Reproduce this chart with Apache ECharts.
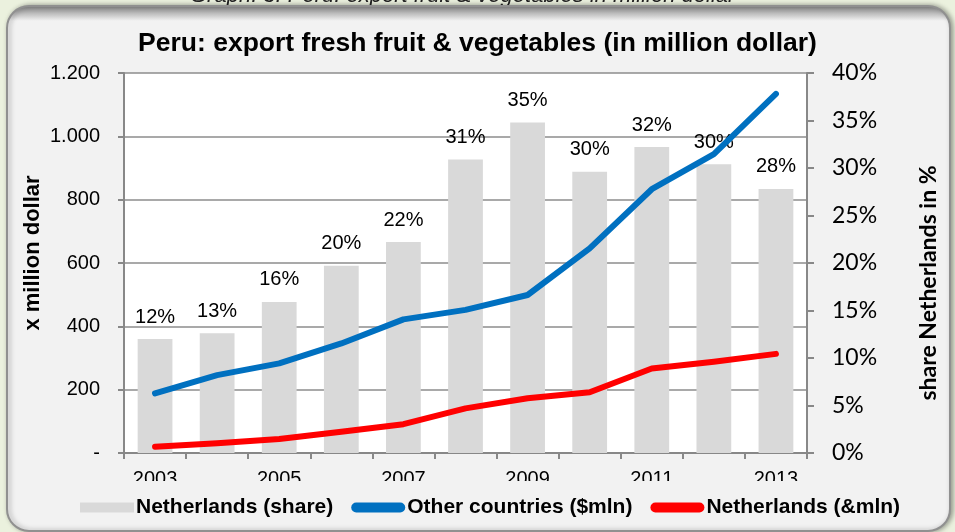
<!DOCTYPE html>
<html>
<head>
<meta charset="utf-8">
</head>
<body style="margin: 0; background: #ebf1de">
<div id="container" style="width: 955px; height: 532px"></div>
<script type="text/javascript" src="https://cdn.jsdelivr.net/npm/echarts@6/dist/echarts.min.js"></script>
<script type="text/javascript">
var years = ['2003', '2004', '2005', '2006', '2007', '2008', '2009', '2010', '2011', '2012', '2013'];
// share of the Netherlands, % (right axis)
var nlShare = [12.0, 12.6, 15.9, 19.7, 22.2, 30.9, 34.8, 29.6, 32.2, 30.4, 27.8];
// million dollar (left axis)
var otherCountries = [188, 246, 283, 346, 422, 452, 499, 646, 833, 944, 1134];
var nlMln = [20, 31, 44, 67, 91, 141, 173, 192, 267, 288, 313];

var arial = '"Liberation Sans", Arial, sans-serif';
var calibri = 'Lato, "Open Sans", sans-serif';
var capsule = 'path://M5,0 L49,0 A5,5 0 0 1 49,10 L5,10 A5,5 0 0 1 5,0 Z';

var dom = document.getElementById('container');
var myChart = echarts.init(dom);

var option = {
    backgroundColor: '#ebf1de',
    animation: false,
    graphic: [
        {
            type: 'text', left: 190, top: -15, z: -20,
            style: {
                text: 'Graph. 3: Peru: export fruit & vegetables in million dollar',
                font: 'italic 22px ' + arial, fill: '#222'
            }
        },
        {
            type: 'rect', z: -10,
            shape: { x: 7, y: 6, width: 943, height: 525, r: 22 },
            style: {
                fill: {
                    type: 'linear', x: 0, y: 0, x2: 0, y2: 1,
                    colorStops: [
                        { offset: 0, color: '#7f7f7f' },
                        { offset: 0.03, color: '#f2f2f2' },
                        { offset: 1, color: '#f2f2f2' }
                    ]
                },
                stroke: '#909090', lineWidth: 2,
                shadowColor: 'rgba(0,0,0,0.35)', shadowBlur: 5, shadowOffsetX: 2
            }
        },
        {
            type: 'text', left: 'center', top: 30, z: 10,
            style: {
                text: 'Peru: export fresh fruit & vegetables (in million dollar)',
                font: 'bold 26.5px ' + arial, fill: '#000'
            }
        },
        {
            // the year labels are cut off at the bottom in the original
            type: 'rect', z: 100,
            shape: { x: 110, y: 481, width: 720, height: 10 },
            style: { fill: '#f2f2f2' }
        }
    ],
    grid: {
        left: 124, right: 148, top: 73, bottom: 79,
        show: true, backgroundColor: '#fff', borderWidth: 0
    },
    legend: {
        left: 75, top: 492, z: 101,
        itemWidth: 54, itemHeight: 10, itemGap: 18,
        textStyle: { fontFamily: arial, fontWeight: 'bold', fontSize: 21, color: '#000', padding: [0, 0, 0, -3] },
        data: [
            { name: 'Netherlands (share)', icon: 'rect' },
            { name: 'Other countries ($mln)', icon: capsule, itemStyle: { color: '#0070c0' } },
            { name: 'Netherlands (&mln)', icon: capsule, itemStyle: { color: '#ff0000' } }
        ]
    },
    xAxis: {
        type: 'category',
        data: years,
        boundaryGap: true,
        axisLine: { lineStyle: { color: '#888', width: 2 } },
        axisTick: { show: true, interval: 0, length: 6, lineStyle: { color: '#888', width: 2 } },
        axisLabel: { interval: 1, margin: 16, fontFamily: arial, fontSize: 20, color: '#000' }
    },
    yAxis: [
        {
            type: 'value', min: 0, max: 1200, interval: 200,
            name: 'x million dollar', nameLocation: 'middle', nameGap: 80, nameMoveOverlap: false,
            nameTextStyle: { fontFamily: arial, fontWeight: 'bold', fontSize: 22, color: '#000', padding: [0, 0, 0, 20] },
            axisLine: { show: true, lineStyle: { color: '#888', width: 2 } },
            axisTick: { show: true, length: 6, lineStyle: { color: '#888', width: 2 } },
            splitLine: { lineStyle: { color: '#8c8c8c', width: 1.5 } },
            axisLabel: {
                margin: 24, fontFamily: arial, fontSize: 20, color: '#000',
                formatter: function (v) {
                    if (v === 0) return '-';
                    return String(v).replace(/\B(?=(\d{3})+(?!\d))/g, '.');
                }
            }
        },
        {
            type: 'value', min: 0, max: 40, interval: 5,
            name: 'share Netherlands in %', nameLocation: 'middle', nameGap: 110,
            nameTextStyle: { fontFamily: calibri, fontWeight: 'bold', fontSize: 23, color: '#000', padding: [0, 40, 0, 0] },
            axisLine: { show: true, lineStyle: { color: '#888', width: 2 } },
            axisTick: { show: true, length: 7, lineStyle: { color: '#888', width: 2 } },
            splitLine: { show: false },
            axisLabel: { margin: 25, fontFamily: calibri, fontSize: 23, color: '#000', formatter: '{value}%' }
        }
    ],
    series: [
        {
            name: 'Netherlands (share)',
            type: 'bar',
            yAxisIndex: 1,
            data: nlShare,
            barWidth: '56%',
            itemStyle: { color: '#d9d9d9' },
            label: {
                show: true, position: 'top', distance: 12,
                fontFamily: arial, fontSize: 20, color: '#000',
                formatter: function (p) { return Math.round(p.value) + '%'; }
            },
            z: 2
        },
        {
            name: 'Other countries ($mln)',
            type: 'line',
            data: otherCountries,
            symbol: 'none',
            color: '#0070c0',
            lineStyle: { width: 6, color: '#0070c0', cap: 'round', join: 'round' },
            z: 3
        },
        {
            name: 'Netherlands (&mln)',
            type: 'line',
            data: nlMln,
            symbol: 'none',
            color: '#ff0000',
            lineStyle: { width: 6, color: '#ff0000', cap: 'round', join: 'round' },
            z: 3
        }
    ]
};

if (option && typeof option === 'object') {
    myChart.setOption(option);
}
</script>
</body>
</html>
